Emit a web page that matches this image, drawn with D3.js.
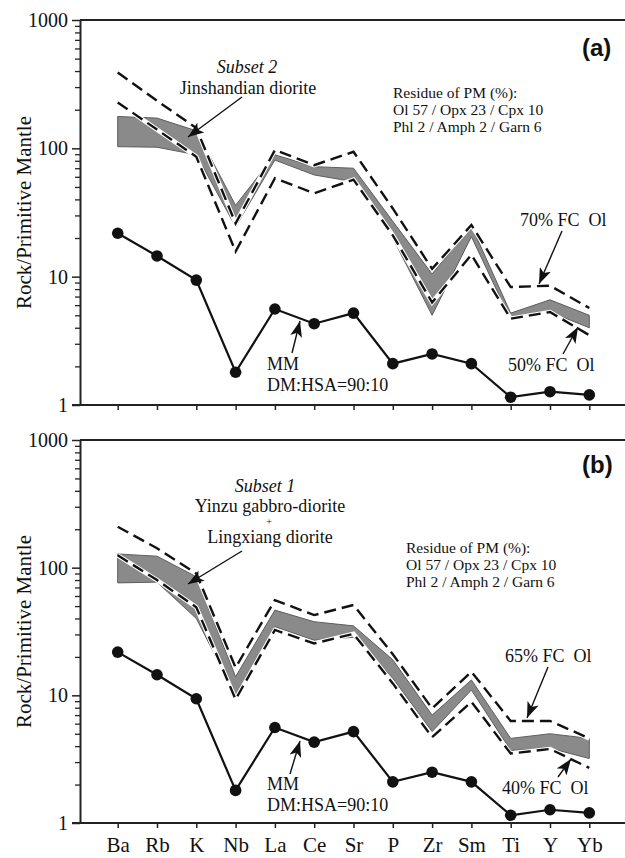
<!DOCTYPE html>
<html>
<head>
<meta charset="utf-8">
<script src="https://cdn.jsdelivr.net/npm/d3@7"></script>
<style>
  html, body { margin: 0; padding: 0; background: #fff; }
  svg { display: block; }
  text { font-family: "Liberation Serif", "Times New Roman", serif; fill: #111; }
</style>
</head>
<body>
<svg id="chart" width="625" height="858"></svg>
<script>
// Elements on the horizontal axis (primitive-mantle normalised spidergram)
const elements = ["Ba", "Rb", "K", "Nb", "La", "Ce", "Sr", "P", "Zr", "Sm", "Ti", "Y", "Yb"];

// Modelled mantle source (MM, DM:HSA = 90:10), same in both panels
const mantleMM = [21.8, 14.5, 9.4, 1.8, 5.6, 4.3, 5.2, 2.1, 2.5, 2.1, 1.15, 1.27, 1.2];

// Panel (a): Subset 2, Jinshandian diorite range
const bandA_high = [177, 172, 137, 36, 89, 72, 70, 27, 10.5, 25, 5.2, 6.6, 5.0];
const bandA_low  = [103, 102, 89, 24.5, 81, 62, 55, 20, 5.0, 20.5, 4.6, 5.3, 4.0];
// Panel (a): olivine fractional crystallisation curves
const fcA_70 = [390, 235, 144, 26, 97, 74, 94, 34, 11.5, 25.3, 8.3, 8.5, 5.7];
const fcA_50 = [228, 140, 86, 15.7, 58.5, 44.7, 57, 21, 6.3, 14.8, 4.7, 5.3, 3.5];

// Panel (b): Subset 1, Yinzu gabbro-diorite + Lingxiang diorite range
const bandB_high = [128, 123, 85, 14, 46.5, 37.7, 35, 19, 7.0, 13.2, 4.6, 5.0, 4.6];
const bandB_low  = [76, 77, 40, 10, 34.5, 27, 28.5, 13.6, 5.2, 11, 3.7, 3.85, 3.2];
// Panel (b): olivine fractional crystallisation curves
const fcB_65 = [209, 142, 90, 16.5, 55.7, 42.5, 51, 21, 7.9, 15.3, 6.3, 6.3, 4.6];
const fcB_40 = [125, 80, 49, 9.3, 32.5, 25.5, 30.3, 12.4, 4.7, 8.9, 3.5, 3.8, 2.7];

// Axis tick labels
const majorTicks = [1, 10, 100, 1000];
const minorTicks = [2,3,4,5,6,7,8,9,20,30,40,50,60,70,80,90,200,300,400,500,600,700,800,900];

const residueLines = ["Residue of PM (%):", "Ol 57 / Opx 23 / Cpx 10", "Phl 2 / Amph 2 / Garn 6"];

const svg = d3.select("#chart");

svg.append("defs").append("marker")
  .attr("id", "head")
  .attr("viewBox", "0 0 16 12")
  .attr("refX", 16).attr("refY", 6)
  .attr("markerWidth", 16).attr("markerHeight", 12)
  .attr("markerUnits", "userSpaceOnUse")
  .attr("orient", "auto")
  .append("path").attr("d", "M0,0 L16,6 L0,12 L4,6 Z").attr("fill", "#111");

const x = d3.scalePoint().domain(elements).range([117.7, 589.3]);

function drawPanel(cfg) {
  const g = svg.append("g");
  const y = d3.scaleLog().domain([1, 1000]).range([cfg.bottom, cfg.top]);

  // frame: left axis, top and bottom lines
  g.append("line").attr("x1", 80).attr("x2", 625).attr("y1", cfg.top).attr("y2", cfg.top)
    .attr("stroke", "#222").attr("stroke-width", 2);

  const yMajor = d3.axisLeft(y).tickValues(majorTicks).tickSize(8).tickSizeOuter(0)
    .tickPadding(4).tickFormat(d3.format("d"));
  const gy = g.append("g").attr("transform", "translate(80,0)").call(yMajor);
  gy.select(".domain").attr("stroke", "#222").attr("stroke-width", 2);
  gy.selectAll(".tick line").attr("stroke", "#222").attr("stroke-width", 1.5);
  gy.selectAll(".tick text").attr("font-size", 20).attr("font-family", "Liberation Serif, serif")
    .attr("fill", "#111").attr("x", -12);

  const yMinor = d3.axisLeft(y).tickValues(minorTicks).tickSize(5).tickSizeOuter(0).tickFormat("");
  const gm = g.append("g").attr("transform", "translate(80,0)").call(yMinor);
  gm.select(".domain").remove();
  gm.selectAll(".tick line").attr("stroke", "#222").attr("stroke-width", 1.3);

  const xAxis = d3.axisBottom(x).tickSize(5).tickSizeOuter(0).tickPadding(9)
    .tickFormat(cfg.showLabels ? (d => d) : "");
  const gx = g.append("g").attr("transform", `translate(0,${cfg.bottom})`).call(xAxis);
  gx.select(".domain").remove();
  gx.selectAll(".tick line").attr("stroke", "#222").attr("stroke-width", 1.5);
  gx.selectAll(".tick text").attr("font-size", 21).attr("font-family", "Liberation Serif, serif").attr("fill", "#111");
  g.append("line").attr("x1", 72).attr("x2", 625).attr("y1", cfg.bottom).attr("y2", cfg.bottom)
    .attr("stroke", "#222").attr("stroke-width", 2);

  // axis title
  g.append("text")
    .attr("transform", `translate(31,${(cfg.top + cfg.bottom) / 2}) rotate(-90)`)
    .attr("text-anchor", "middle").attr("font-size", 21)
    .text("Rock/Primitive Mantle");

  // sample range band
  const area = d3.area()
    .x((d, i) => x(elements[i]))
    .y0(d => y(d[0]))
    .y1(d => y(d[1]));
  const bandData = cfg.bandLow.map((v, i) => [v, cfg.bandHigh[i]]);
  g.append("path").datum(bandData).attr("d", area)
    .attr("fill", "#8a8a8a").attr("stroke", "#5e5e5e").attr("stroke-width", 1);

  // FC curves: white halo under black dashes
  const line = d3.line().x((d, i) => x(elements[i])).y(d => y(d));
  [cfg.fcHigh, cfg.fcLow].forEach(series => {
    g.append("path").datum(series).attr("d", line)
      .attr("fill", "none").attr("stroke", "#fff").attr("stroke-width", 4.5)
      .attr("stroke-linejoin", "miter");
    g.append("path").datum(series).attr("d", line)
      .attr("fill", "none").attr("stroke", "#111").attr("stroke-width", 2.4)
      .attr("stroke-dasharray", "12,6").attr("stroke-linejoin", "miter");
  });

  // MM source line with dots
  g.append("path").datum(mantleMM).attr("d", line)
    .attr("fill", "none").attr("stroke", "#111").attr("stroke-width", 2.2);
  g.selectAll("circle.mm").data(mantleMM).join("circle")
    .attr("class", "mm")
    .attr("cx", (d, i) => x(elements[i])).attr("cy", d => y(d)).attr("r", 5.8)
    .attr("fill", "#111");

  // panel letter
  g.append("text").attr("x", cfg.letterX).attr("y", cfg.letterY)
    .attr("font-weight", "bold").attr("font-size", 24)
    .style("font-family", "Liberation Sans, Arial, sans-serif")
    .text(cfg.letter);

  // residue composition note
  g.append("g").selectAll("text").data(residueLines).join("text")
    .attr("x", cfg.residueX).attr("y", (d, i) => cfg.residueY + i * 17)
    .attr("font-size", 15.5).attr("fill", "#222")
    .text(d => d);

  // sample label block
  cfg.sampleText.forEach(t => {
    g.append("text").attr("x", t.x).attr("y", t.y).attr("text-anchor", "middle")
      .attr("font-size", t.size || 18).attr("font-style", t.italic ? "italic" : "normal")
      .attr("fill", "#222").text(t.s);
  });

  // FC and MM labels
  cfg.labels.forEach(t => {
    g.append("text").attr("x", t.x).attr("y", t.y).attr("font-size", 18)
      .attr("fill", "#222").style("white-space", "pre").text(t.s);
  });

  // pointer arrows
  cfg.arrows.forEach(a => {
    g.append("line").attr("x1", a[0]).attr("y1", a[1]).attr("x2", a[2]).attr("y2", a[3])
      .attr("stroke", "#111").attr("stroke-width", 1.4).attr("marker-end", "url(#head)");
  });
}

drawPanel({
  top: 20, bottom: 405, showLabels: false,
  bandLow: bandA_low, bandHigh: bandA_high, fcHigh: fcA_70, fcLow: fcA_50,
  letter: "(a)", letterX: 582, letterY: 56,
  residueX: 393, residueY: 98,
  sampleText: [
    { s: "Subset 2", x: 247, y: 73, italic: true },
    { s: "Jinshandian diorite", x: 248, y: 94 }
  ],
  labels: [
    { s: "70% FC  Ol", x: 520, y: 226 },
    { s: "50% FC  Ol", x: 508, y: 371 },
    { s: "MM", x: 267, y: 370 },
    { s: "DM:HSA=90:10", x: 267, y: 391 }
  ],
  arrows: [
    [242, 97, 188, 137],
    [562, 231, 539, 284],
    [563, 354, 578, 327],
    [292, 353, 300, 321]
  ]
});

drawPanel({
  top: 440, bottom: 823, showLabels: true,
  bandLow: bandB_low, bandHigh: bandB_high, fcHigh: fcB_65, fcLow: fcB_40,
  letter: "(b)", letterX: 582, letterY: 473,
  residueX: 406, residueY: 553,
  sampleText: [
    { s: "Subset 1", x: 265, y: 492, italic: true },
    { s: "Yinzu gabbro-diorite", x: 270, y: 512 },
    { s: "+", x: 269, y: 525, size: 10 },
    { s: "Lingxiang diorite", x: 270, y: 543 }
  ],
  labels: [
    { s: "65% FC  Ol", x: 505, y: 662 },
    { s: "40% FC  Ol", x: 502, y: 794 },
    { s: "MM", x: 267, y: 790 },
    { s: "DM:HSA=90:10", x: 267, y: 811 }
  ],
  arrows: [
    [242, 551, 188, 584],
    [548, 667, 527, 718],
    [558, 777, 571, 759],
    [290, 774, 300, 741]
  ]
});
</script>
</body>
</html>
